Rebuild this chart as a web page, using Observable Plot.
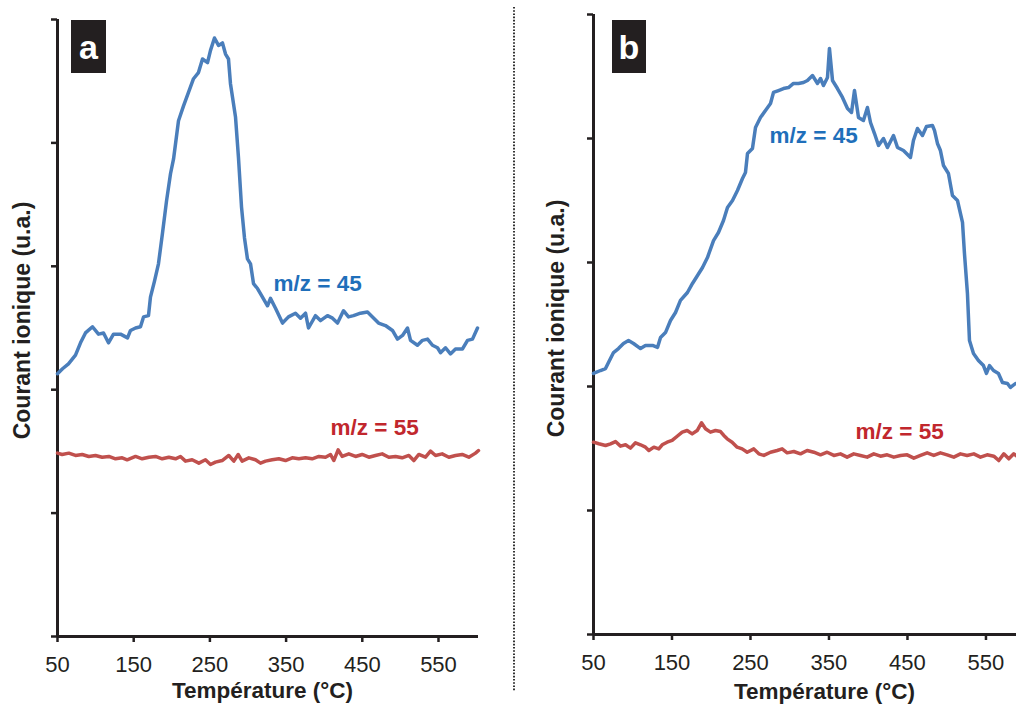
<!DOCTYPE html>
<html>
<head>
<meta charset="utf-8">
<script src="https://cdn.jsdelivr.net/npm/d3@7"></script>
<script src="https://cdn.jsdelivr.net/npm/@observablehq/plot@0.6"></script>
<style>
  html, body { margin: 0; padding: 0; background: #ffffff; }
  #wrap { position: relative; width: 1016px; height: 704px; overflow: hidden; font-family: 'Liberation Sans', Arial, sans-serif; }
  .panel { position: absolute; top: 0; }
  #overlay { position: absolute; left: 0; top: 0; pointer-events: none; }
</style>
</head>
<body>
<div id="wrap">
  <div id="pa" class="panel" style="left:0px"></div>
  <div id="pb" class="panel" style="left:510px"></div>
  <svg id="overlay" width="1016" height="704" xmlns="http://www.w3.org/2000/svg">
    <line x1="514" y1="7" x2="514" y2="691" stroke="#333" stroke-width="2" stroke-dasharray="1.6 1.6"/>
    <rect x="71" y="20" width="35" height="53" fill="#231f20"/>
    <text x="88.5" y="59" fill="#fff" font-size="34" font-weight="bold" text-anchor="middle" font-family="Liberation Sans, Arial, sans-serif">a</text>
    <rect x="612" y="20" width="34" height="53" fill="#231f20"/>
    <text x="629" y="59" fill="#fff" font-size="34" font-weight="bold" text-anchor="middle" font-family="Liberation Sans, Arial, sans-serif">b</text>
  </svg>
</div>
<script>
// ---------- data ----------
const xTicks = [50, 150, 250, 350, 450, 550];
const yTicks = [0, 1, 2, 3, 4, 5];

// Panel a, m/z = 45
const tempA45 = [50,56.6,64.4,73.6,80.2,86.7,95.9,103.8,110.4,116.9,123.5,132.7,141.9,145.8,152.4,158.9,162.9,169.4,172.0,177.3,182.5,187.8,193.1,198.3,202.3,208.8,215.4,221.9,228.5,235.0,240.3,246.9,250.8,256.0,261.3,266.5,270.5,274.4,277.0,283.6,287.5,291.5,295.4,299.3,303.3,307.2,312.5,319.0,325.6,329.5,336.1,345.3,353.1,362.3,368.9,375.5,379.4,388.6,395.1,404.3,410.9,417.5,425.3,431.9,438.5,447.6,456.8,463.4,471.3,480.4,489.6,496.2,502.8,509.3,513.3,522.4,529.0,535.6,542.1,548.7,552.6,559.2,565.7,572.3,581.5,588.1,594.6,601.2];
const ionA45 = [2.13,2.17,2.21,2.28,2.38,2.46,2.51,2.45,2.46,2.38,2.45,2.45,2.42,2.48,2.50,2.51,2.59,2.60,2.75,2.88,3.02,3.27,3.53,3.75,3.87,4.18,4.30,4.41,4.52,4.57,4.68,4.65,4.75,4.85,4.79,4.81,4.72,4.68,4.48,4.21,3.88,3.48,3.23,3.06,3.02,2.86,2.82,2.75,2.68,2.74,2.66,2.54,2.59,2.62,2.58,2.62,2.50,2.60,2.56,2.60,2.58,2.54,2.64,2.59,2.60,2.62,2.63,2.59,2.54,2.52,2.48,2.41,2.44,2.50,2.40,2.36,2.40,2.41,2.36,2.34,2.30,2.34,2.29,2.33,2.33,2.40,2.41,2.50];

// Panel a, m/z = 55
const tempA55 = [50,56.1,64.9,73.6,82.4,91.1,99.9,108.6,117.4,126.1,134.9,141.4,152.4,161.1,169.9,178.6,187.4,196.1,204.9,211.4,218.0,226.7,235.5,244.2,250.8,257.3,266.1,274.8,281.4,287.1,292.3,301.1,309.8,316.4,323.0,331.7,340.5,349.2,358.0,366.7,375.5,384.2,393.0,401.7,408.3,412.6,418.3,423.6,432.3,441.1,449.8,458.6,467.3,476.1,484.8,493.6,502.3,511.1,517.6,524.2,532.9,539.5,546.1,554.8,563.6,572.3,581.1,589.8,598.6,602.5];
const ionA55 = [1.486,1.475,1.486,1.467,1.475,1.459,1.467,1.453,1.459,1.440,1.448,1.432,1.459,1.440,1.453,1.459,1.440,1.453,1.440,1.459,1.421,1.432,1.405,1.432,1.394,1.413,1.426,1.467,1.421,1.475,1.421,1.448,1.432,1.405,1.421,1.432,1.440,1.426,1.448,1.440,1.448,1.440,1.459,1.453,1.475,1.426,1.513,1.459,1.480,1.459,1.475,1.453,1.467,1.480,1.453,1.459,1.448,1.467,1.426,1.475,1.453,1.502,1.467,1.480,1.453,1.467,1.475,1.453,1.486,1.507];

// Panel b, m/z = 45
const tempB45 = [50,58.9,65.3,69.1,75.5,81.8,88.2,94.6,101.0,109.9,116.2,125.2,131.5,135.4,141.7,148.1,154.5,160.8,169.7,176.1,182.5,188.9,195.2,202.9,209.2,215.6,220.7,227.1,233.4,239.8,243.6,246.2,252.5,256.4,262.7,269.1,275.5,279.3,285.7,292.0,298.4,304.8,311.1,317.5,322.6,329.0,335.4,339.2,343.0,348.1,350.6,354.5,360.8,367.2,373.6,378.7,382.5,387.6,393.9,399.0,402.9,408.0,413.1,419.4,424.5,432.2,437.3,444.9,453.8,457.6,462.7,469.1,474.2,481.8,484.4,488.2,492.0,495.9,502.2,507.3,513.7,520.1,522.6,526.4,529.0,534.1,540.4,546.8,550.6,554.5,559.6,565.9,571.0,577.4,581.2,587.6];
const ionB45 = [2.105,2.129,2.145,2.194,2.274,2.306,2.347,2.371,2.347,2.306,2.331,2.331,2.315,2.395,2.435,2.532,2.597,2.694,2.758,2.831,2.895,2.960,3.040,3.177,3.242,3.339,3.444,3.500,3.581,3.677,3.726,3.879,3.919,4.089,4.169,4.226,4.282,4.371,4.387,4.403,4.411,4.444,4.444,4.452,4.468,4.508,4.444,4.484,4.427,4.492,4.726,4.468,4.403,4.331,4.242,4.210,4.387,4.169,4.145,4.250,4.129,4.040,3.944,4.000,3.927,4.024,3.927,3.903,3.847,3.984,4.081,4.024,4.097,4.105,4.065,3.960,3.903,3.782,3.718,3.540,3.500,3.323,3.073,2.750,2.371,2.266,2.210,2.169,2.105,2.169,2.129,2.105,2.032,2.024,1.992,2.024];

// Panel b, m/z = 55
const tempB55 = [50,56.8,65.3,71.7,78.0,84.4,90.8,97.1,103.5,109.9,116.2,120.5,126.9,133.2,137.5,143.8,150.2,156.6,163.0,169.3,175.7,182.1,187.6,192.7,199.0,205.4,211.8,216.0,220.3,226.6,233.0,239.4,245.8,254.2,260.6,267.0,275.5,284.0,290.3,296.7,305.2,313.7,322.2,330.7,339.2,347.7,356.2,364.6,373.1,381.6,390.1,398.6,407.1,415.6,424.1,432.6,441.1,449.6,458.1,466.6,475.1,483.5,492.0,500.5,509.0,517.5,526.0,534.5,543.0,551.5,560.0,566.3,572.7,579.1,585.4,588.9];
const ionB55 = [1.551,1.538,1.524,1.538,1.556,1.519,1.530,1.503,1.546,1.530,1.511,1.484,1.511,1.497,1.530,1.551,1.565,1.599,1.632,1.645,1.618,1.645,1.707,1.659,1.632,1.645,1.637,1.605,1.578,1.551,1.511,1.497,1.470,1.497,1.457,1.444,1.470,1.484,1.497,1.465,1.476,1.457,1.484,1.470,1.449,1.470,1.444,1.457,1.430,1.457,1.444,1.430,1.457,1.438,1.449,1.430,1.444,1.449,1.422,1.444,1.465,1.444,1.465,1.449,1.430,1.457,1.444,1.457,1.430,1.449,1.438,1.403,1.457,1.417,1.457,1.440];

// curve labels
const labelsA = [
  {t: 333.5, v: 2.796, label: "m/z = 45", series: "45"},
  {t: 408.3, v: 1.629, label: "m/z = 55", series: "55"}
];
const labelsB = [
  {t: 274.2, v: 3.960, label: "m/z = 45", series: "45"},
  {t: 383.8, v: 1.573, label: "m/z = 55", series: "55"}
];

const xTitle = "Température (°C)";
const yTitle = "Courant ionique (u.a.)";

// ---------- styles ----------
const axisColor = "#231f20";
const blueLine = "#4a7ebb", redLine = "#c0504d";
const blueText = "#1f6fba", redText = "#c1272d";

function zip(ts, vs) { return ts.map((t, i) => ({t, v: vs[i]})); }

function panel({width, marginLeft, marginRight, marginTop, marginBottom, xMax, s45, s55, labels, xdx, xdy, ydx, ydy}) {
  return Plot.plot({
    width, height: 704, marginLeft, marginRight, marginTop, marginBottom,
    x: {domain: [50, xMax], axis: null},
    y: {domain: [0, 5], axis: null},
    style: {fontFamily: "'Liberation Sans', Arial, sans-serif", fontSize: "22px", color: axisColor, background: "transparent", overflow: "visible"},
    marks: [
      Plot.axisY({ticks: yTicks, tickSize: 6, tickFormat: () => "", strokeWidth: 2.5, label: null}),
      Plot.axisX({ticks: xTicks, tickSize: 6, tickPadding: 14, strokeWidth: 2.5, label: null, fontSize: 22}),
      Plot.ruleX([50], {stroke: axisColor, strokeWidth: 3}),
      Plot.ruleY([0], {stroke: axisColor, strokeWidth: 3}),
      Plot.line(s55, {x: "t", y: "v", stroke: redLine, strokeWidth: 3.5, strokeLinejoin: "round"}),
      Plot.line(s45, {x: "t", y: "v", stroke: blueLine, strokeWidth: 3.5, strokeLinejoin: "round"}),
      Plot.text(labels.filter(d => d.series === "45"), {x: "t", y: "v", text: "label", fill: blueText, textAnchor: "start", lineAnchor: "bottom", fontWeight: "bold", fontSize: 22.5}),
      Plot.text(labels.filter(d => d.series === "55"), {x: "t", y: "v", text: "label", fill: redText, textAnchor: "start", lineAnchor: "bottom", fontWeight: "bold", fontSize: 22.5}),
      Plot.text([xTitle], {frameAnchor: "bottom", textAnchor: "middle", dx: xdx, dy: xdy, lineAnchor: "bottom", fontWeight: "bold", fontSize: 22.5}),
      Plot.text([yTitle], {frameAnchor: "left", textAnchor: "middle", rotate: -90, dx: ydx, dy: ydy, lineAnchor: "middle", fontWeight: "bold", fontSize: 23})
    ]
  });
}

document.getElementById("pa").appendChild(panel({
  width: 505, marginLeft: 57, marginRight: 27, marginTop: 19, marginBottom: 68, xMax: 602.5,
  s45: zip(tempA45, ionA45), s55: zip(tempA55, ionA55), labels: labelsA,
  xdx: -5.5, xdy: 61.5, ydx: -35, ydy: -7.5
}));
document.getElementById("pb").appendChild(panel({
  width: 506, marginLeft: 83, marginRight: 0, marginTop: 14, marginBottom: 70, xMax: 588.9,
  s45: zip(tempB45, ionB45), s55: zip(tempB55, ionB55), labels: labelsB,
  xdx: 19.5, xdy: 64.5, ydx: -37, ydy: -6
}));
</script>
</body>
</html>
